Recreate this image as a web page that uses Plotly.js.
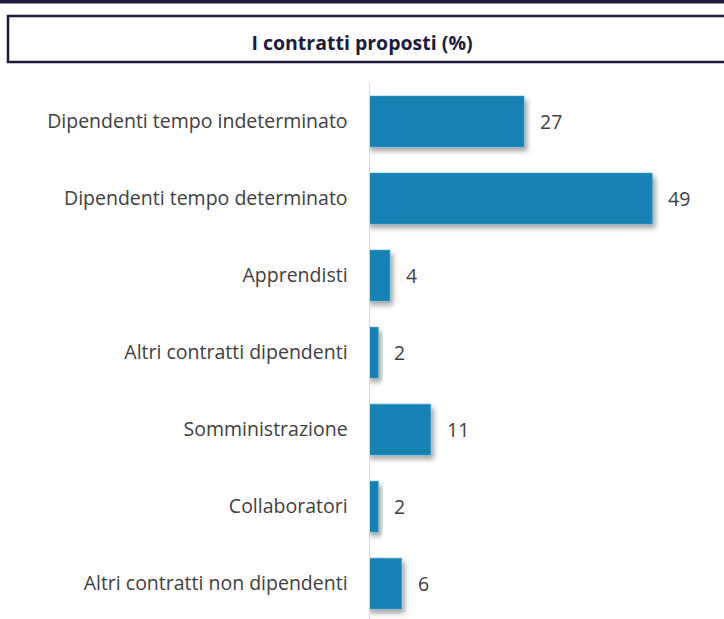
<!DOCTYPE html>
<html>
<head>
<meta charset="utf-8">
<script src="https://cdn.plot.ly/plotly-3.0.1.min.js"></script>
<style>
  html, body { margin: 0; padding: 0; background: #fff; }
  #chart { width: 724px; height: 619px; }
</style>
</head>
<body>
<svg width="0" height="0" style="position:absolute">
  <defs>
    <filter id="barShadow" x="-20%" y="-20%" width="160%" height="160%">
      <feDropShadow dx="3" dy="4" stdDeviation="2.5" flood-color="#000" flood-opacity="0.35"/>
    </filter>
  </defs>
</svg>
<div id="chart"></div>
<script>
const categories = [
  "Dipendenti tempo indeterminato",
  "Dipendenti tempo determinato",
  "Apprendisti",
  "Altri contratti dipendenti",
  "Somministrazione",
  "Collaboratori",
  "Altri contratti non dipendenti"
];
const values = [27, 49, 4, 2, 11, 2, 6];
const chartTitle = "I contratti proposti (%)";

const W = 724, H = 619;
const mL = 370, mR = 0, mT = 83, mB = 0;
const pw = W - mL - mR, ph = H - mT - mB;
const px = x => (x - mL) / pw;
const py = y => (H - mB - y) / ph;
const xMin = 0.58, pxPerUnit = 5.83;

const trace = {
  type: "bar",
  orientation: "h",
  y: categories,
  x: values,
  width: 0.66,
  marker: { color: "#1682B3", line: { color: "#3C9CC8", width: 0.6 } },
  hoverinfo: "none"
};

const annotations = values.map((v, i) => ({
  x: v, y: categories[i], xref: "x", yref: "y",
  text: String(v), showarrow: false, xanchor: "left", yanchor: "middle",
  xshift: 14,
  font: { family: "Open Sans, sans-serif", size: 19.5, color: "#404040" }
}));

const layout = {
  width: W, height: H,
  margin: { l: mL, r: mR, t: mT, b: mB, pad: 0 },
  paper_bgcolor: "#fff", plot_bgcolor: "#fff",
  showlegend: false,
  title: {
    text: "<b>" + chartTitle + "</b>",
    xref: "container", yref: "container",
    x: 0.5, xanchor: "center", y: 1 - 43 / H, yanchor: "middle",
    font: { family: "Open Sans, sans-serif", size: 19.5, color: "#1c1b3f" }
  },
  xaxis: {
    range: [xMin, xMin + pw / pxPerUnit],
    showgrid: false, zeroline: false, showticklabels: false, showline: false, ticks: ""
  },
  yaxis: {
    type: "category",
    range: [6.46, -0.5],
    showgrid: false, zeroline: false,
    showline: true, linecolor: "#d9d9d9", linewidth: 1.5,
    ticks: "", ticklabelstandoff: 17,
    tickfont: { family: "Open Sans, sans-serif", size: 19.5, color: "#404040" }
  },
  shapes: [
    { type: "rect", xref: "paper", yref: "paper",
      x0: px(-5), x1: px(730), y0: py(3.5), y1: py(-5),
      fillcolor: "#1c1b3f", line: { width: 0 } },
    { type: "rect", xref: "paper", yref: "paper",
      x0: px(8), x1: px(745), y0: py(62), y1: py(16),
      fillcolor: "rgba(0,0,0,0)", line: { color: "#1c1b3f", width: 2.5 } }
  ],
  annotations: annotations
};

Plotly.newPlot("chart", [trace], layout, { displayModeBar: false, staticPlot: true }).then(gd => {
  gd.querySelectorAll(".bars .point path").forEach(p => p.setAttribute("filter", "url(#barShadow)"));
});
</script>
</body>
</html>
